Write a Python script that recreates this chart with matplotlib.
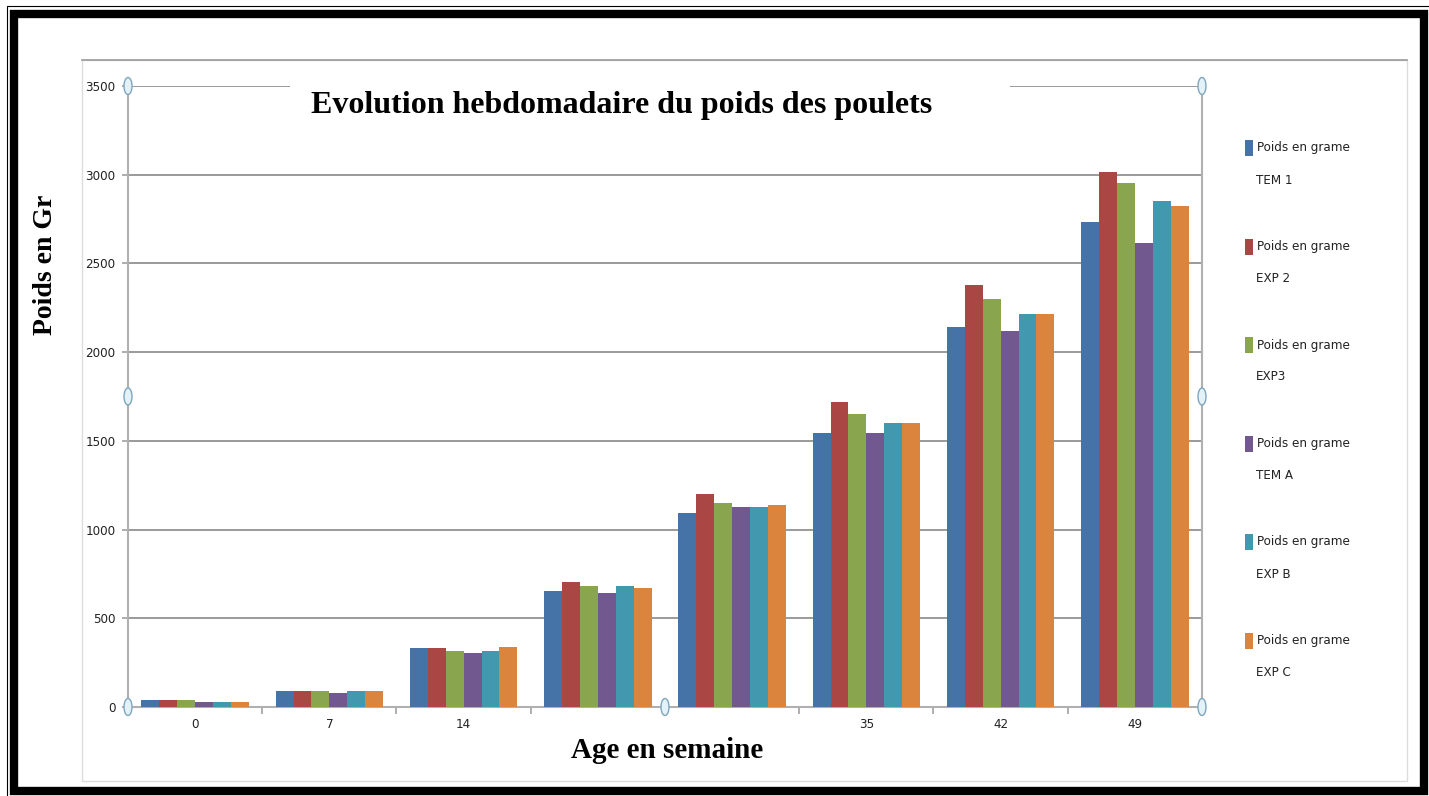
import numpy as np
import matplotlib.pyplot as plt
from matplotlib.patches import Rectangle, Ellipse

# weekly weights (g) per batch
ages = [0, 7, 14, 21, 28, 35, 42, 49]
tick_labels = ['0', '7', '14', '', '', '35', '42', '49']
yticks = [0, 500, 1000, 1500, 2000, 2500, 3000, 3500]

tem1 = [40, 92, 330, 654, 1095, 1545, 2139, 2734]
exp2 = [40, 92, 330, 706, 1202, 1718, 2379, 3016]
exp3 = [40, 92, 318, 684, 1148, 1652, 2301, 2952]
tema = [28, 78, 305, 642, 1127, 1545, 2117, 2616]
expb = [28, 92, 318, 684, 1127, 1598, 2217, 2853]
expc = [28, 92, 340, 673, 1139, 1598, 2217, 2822]

series = [tem1, exp2, exp3, tema, expb, expc]
names = ['TEM 1', 'EXP 2', 'EXP3', 'TEM A', 'EXP B', 'EXP C']
colors = ['#4572A7', '#AA4643', '#89A54E', '#71588F', '#4198AF', '#DB843D']

W, H = 1429, 796
small = dict(family='DejaVu Sans', fontstretch='condensed', color='#222222')
serif = ['Liberation Serif', 'DejaVu Serif']


def fx(px):
    return px / W


def fy(py):
    return 1 - py / H


fig = plt.figure(figsize=(W / 100, H / 100), dpi=100, facecolor='white')
ax = fig.add_axes([fx(128), fy(707), fx(1202) - fx(128), fy(86) - fy(707)])

x = np.arange(len(ages))
w = 1 / 7.5
for i, (vals, c) in enumerate(zip(series, colors)):
    ax.bar(x + (i - 2.5) * w, vals, width=w, color=c, zorder=3)

ax.set_xlim(-0.5, len(ages) - 0.5)
ax.set_ylim(0, 3500)
ax.set_yticks(yticks)
ax.set_yticklabels([str(v) for v in yticks], fontsize=9.5, **small)
ax.set_xticks(x)
ax.set_xticklabels(tick_labels, fontsize=9.5, **small)
ax.set_xticks(np.arange(0.5, len(ages) - 1, 1), minor=True)
ax.tick_params(axis='x', which='major', length=0, pad=8)
ax.tick_params(axis='x', which='minor', length=5, color='#a0a0a0', width=1.2)
ax.tick_params(axis='y', length=4, color='#a0a0a0', width=1.2, pad=5)
ax.grid(axis='y', color='#7e7e7e', linewidth=1.1, zorder=0)
ax.set_axisbelow(True)
for s in ['left', 'right', 'bottom']:
    ax.spines[s].set_color('#b0b0b0')
    ax.spines[s].set_linewidth(1.5)
ax.spines['top'].set_visible(False)

# selection handles of the plot area
for hx, hy in [(0, 1), (1, 1), (0, 0.5), (1, 0.5), (0, 0), (0.5, 0), (1, 0)]:
    ax.add_patch(Ellipse((hx, hy), 8 / 1074, 17 / 621, transform=ax.transAxes,
                         facecolor='#e3f2f8', edgecolor='#7fa6bd', lw=1,
                         clip_on=False, zorder=6))

# chart area frame
fig.add_artist(Rectangle((fx(82), fy(781)), fx(1407) - fx(82), fy(60) - fy(781),
                         transform=fig.transFigure, fill=False,
                         edgecolor='#dcdcdc', lw=1))
fig.add_artist(plt.Line2D([fx(82), fx(1407)], [fy(60), fy(60)],
                          transform=fig.transFigure, color='#9a9a9a', lw=1.2))

# title box hides the top gridline behind the text
fig.add_artist(Rectangle((fx(290), fy(98)), fx(1010) - fx(290), fy(74) - fy(98),
                         transform=fig.transFigure, facecolor='white',
                         edgecolor='none', zorder=4))
fig.text(fx(622), fy(105), 'Evolution hebdomadaire du poids des poulets',
         family=serif, fontweight='bold', fontsize=23, ha='center',
         va='center', zorder=5)
fig.text(fx(46), fy(265), 'Poids en Gr', family=serif, fontweight='bold',
         fontsize=20, rotation=90, ha='center', va='center')
fig.text(fx(667), fy(750), 'Age en semaine', family=serif, fontweight='bold',
         fontsize=21, ha='center', va='center')

# legend, one block per batch
for k, (name, c) in enumerate(zip(names, colors)):
    y0 = 148 + k * 98.5
    fig.add_artist(Rectangle((fx(1245), fy(y0 + 8)), fx(8), 16 / H,
                             transform=fig.transFigure, facecolor=c,
                             edgecolor='none'))
    fig.text(fx(1257), fy(y0), 'Poids en grame', fontsize=9.5,
             ha='left', va='center', **small)
    fig.text(fx(1256), fy(y0 + 32), name, fontsize=9.5,
             ha='left', va='center', **small)

# double page border, cut off on the right and bottom
fig.add_artist(Rectangle((fx(6.5), fy(800)), fx(1440) - fx(6.5), fy(6.5) - fy(800),
                         transform=fig.transFigure, fill=False,
                         edgecolor='black', lw=0.8))
fig.add_artist(Rectangle((fx(14), fy(790.5)), fx(1424) - fx(14), fy(14) - fy(790.5),
                         transform=fig.transFigure, fill=False,
                         edgecolor='black', lw=6))

fig.savefig('out.png', dpi=100, facecolor='white')
